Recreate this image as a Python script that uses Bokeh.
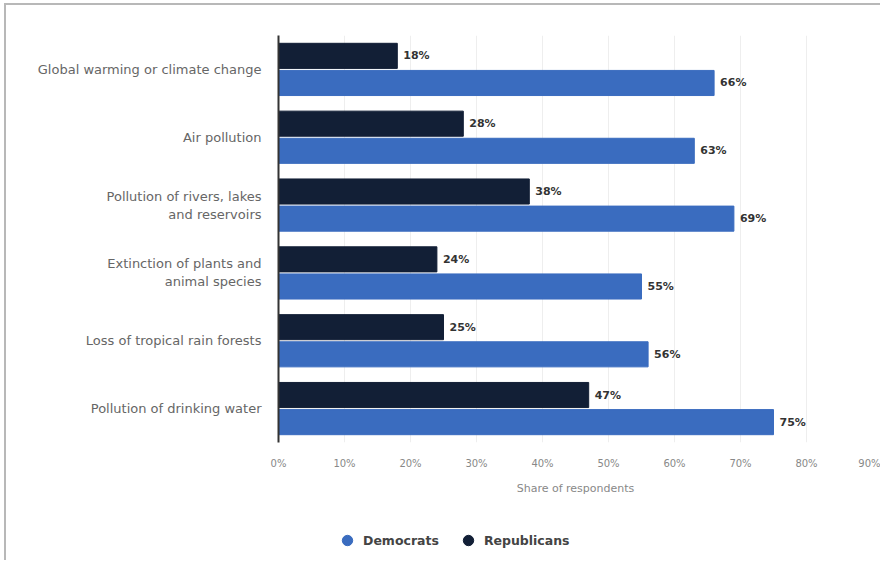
from bokeh.plotting import figure
from bokeh.layouts import column
from bokeh.models import (FactorRange, ColumnDataSource, Legend, LegendItem, FixedTicker,
                          Range1d)
from bokeh.transform import dodge
from bokeh.core.properties import value
from bokeh.embed import file_html
from bokeh.resources import INLINE

categories = [
    "Global warming or climate change",
    "Air pollution",
    "Pollution of rivers, lakes\nand reservoirs",
    "Extinction of plants and\nanimal species",
    "Loss of tropical rain forests",
    "Pollution of drinking water",
]
democrats = [66, 63, 69, 55, 56, 75]
republicans = [18, 28, 38, 24, 25, 47]
series_names = ["Democrats", "Republicans"]
x_ticks = [0, 10, 20, 30, 40, 50, 60, 70, 80, 90]
x_tick_labels = ["0%", "10%", "20%", "30%", "40%", "50%", "60%", "70%", "80%", "90%"]

BLUE = "#3a6cbf"
NAVY = "#121f36"
FONT = "DejaVu Sans"

src = ColumnDataSource(dict(
    cat=categories,
    dem=democrats,
    rep=republicans,
    dem_lbl=[f"{v}%" for v in democrats],
    rep_lbl=[f"{v}%" for v in republicans],
))

p = figure(
    width=874, height=515,
    y_range=FactorRange(*categories[::-1]),
    x_range=(0, 90),
    output_backend="svg", toolbar_location=None,
    min_border_left=272, min_border_top=30, min_border_right=8, min_border_bottom=78,
)
p.outline_line_color = None
p.background_fill_color = "white"

p.hbar(y=dodge("cat", 0.2, range=p.y_range), right="rep", left=0, height=0.37,
       source=src, color=NAVY)
p.hbar(y=dodge("cat", -0.2, range=p.y_range), right="dem", left=0, height=0.37,
       source=src, color=BLUE)

p.text(x="rep", y=dodge("cat", 0.2, range=p.y_range), text="rep_lbl", source=src,
       x_offset=6, text_baseline="middle", text_font=value(FONT),
       text_font_size="11px", text_font_style="bold", text_color="#333333")
p.text(x="dem", y=dodge("cat", -0.2, range=p.y_range), text="dem_lbl", source=src,
       x_offset=6, text_baseline="middle", text_font=value(FONT),
       text_font_size="11px", text_font_style="bold", text_color="#333333")

# axes
p.xaxis.ticker = FixedTicker(ticks=x_ticks)
p.xaxis.major_label_overrides = {t: l for t, l in zip(x_ticks, x_tick_labels)}
p.xaxis.axis_line_color = None
p.xaxis.major_tick_line_color = None
p.xaxis.minor_tick_line_color = None
p.xaxis.major_label_text_font = FONT
p.xaxis.major_label_text_font_size = "10px"
p.xaxis.major_label_text_color = "#888888"
p.xaxis.major_label_standoff = 9
p.xaxis.axis_label = "Share of respondents"
p.xaxis.axis_label_text_font = FONT
p.xaxis.axis_label_text_font_size = "11px"
p.xaxis.axis_label_text_font_style = "normal"
p.xaxis.axis_label_text_color = "#888888"
p.xaxis.axis_label_standoff = 10

p.yaxis.axis_line_color = "#333333"
p.yaxis.axis_line_width = 2
p.yaxis.major_tick_line_color = None
p.yaxis.minor_tick_line_color = None
p.yaxis.major_label_text_font = FONT
p.yaxis.major_label_text_font_size = "13px"
p.yaxis.major_label_text_color = "#666666"
p.yaxis.major_label_standoff = 11

p.xgrid.grid_line_color = "#eeeeee"
p.ygrid.grid_line_color = None

# legend strip below the chart (its frame is aligned with the chart's frame)
lg = figure(width=874, height=40, x_range=Range1d(0, 1), y_range=Range1d(0, 1),
            x_axis_type=None, y_axis_type=None,
            output_backend="svg", toolbar_location=None,
            min_border_left=0, min_border_right=0, min_border_top=0, min_border_bottom=0)
lg.grid.visible = False
lg.outline_line_color = None
nan = float("nan")
d_r = lg.scatter(x=[nan], y=[nan], marker="circle", color=BLUE)
r_r = lg.scatter(x=[nan], y=[nan], marker="circle", color=NAVY)
legend = Legend(items=[LegendItem(label=series_names[0], renderers=[d_r]),
                       LegendItem(label=series_names[1], renderers=[r_r])],
                orientation="horizontal", location=(56, 7),
                label_text_font=FONT, label_text_font_size="12.5px",
                label_text_font_style="bold", label_text_color="#444444",
                border_line_color=None, background_fill_alpha=0,
                glyph_width=26, glyph_height=26,
                spacing=16, margin=0, padding=0, label_standoff=3)
lg.add_layout(legend, "center")

layout = column(p, lg, spacing=0)
layout.styles = {"border-top": "2px solid #b8b8b8", "border-left": "2px solid #b8b8b8",
                 "margin-left": "4px", "margin-top": "3px"}
open("out.html", "w").write(file_html(layout, INLINE))
